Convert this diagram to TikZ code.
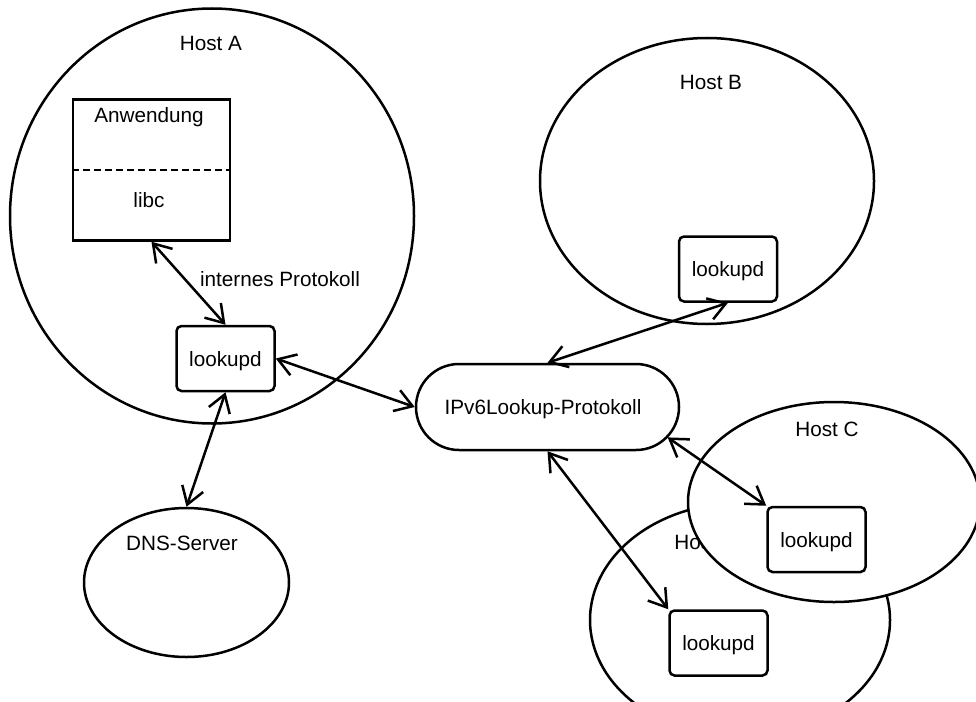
\documentclass[tikz,border=0pt]{standalone}
\usepackage{fontspec}
\setmainfont{Liberation Sans}
\usetikzlibrary{shapes.geometric,shapes.misc,arrows.meta,calc}
\begin{document}
\begin{tikzpicture}[x=1pt,y=-1pt,
  every node/.style={font=\fontsize{20.7}{24}\selectfont,text depth=0pt},
  hostshape/.style={ellipse,draw,fill=white,line width=2.5pt,inner sep=0pt},
  daemon/.style={draw,fill=white,rounded corners=5pt,line width=2.5pt,
    minimum width=98pt,minimum height=65pt,inner sep=0pt},
  proto/.style={rounded rectangle,draw,fill=white,line width=2.5pt,
    minimum width=263pt,minimum height=86pt,inner sep=0pt},
  appbox/.style={draw,fill=white,line width=2.5pt,minimum width=157pt,
    minimum height=141pt,inner sep=0pt},
  lbl/.style={inner sep=0pt},
  link/.style={line width=2.5pt,{Straight Barb[length=17pt,width=22pt]}-{Straight Barb[length=17pt,width=22pt]}}]
\clip (0,0) rectangle (976,701);

% Host A with application and daemon
\node[hostshape,minimum width=404pt,minimum height=415pt] (hostA) at (212,216) {};
\node[lbl] (hostAlbl) at (211,43) {Host A};
\node[appbox] (app) at (151.5,170) {};
\draw[line width=2.2pt,dash pattern=on 7pt off 4pt] (app.west) -- (app.east);
\node[lbl] (applbl) at (149,115) {Anwendung};
\node[lbl] (libclbl) at (149,199.5) {libc};
\node[daemon] (lkA) at (225.5,358.5) {lookupd};
\node[lbl] (intlbl) at (280,278.5) {internes Protokoll};

% DNS server
\node[hostshape,minimum width=205pt,minimum height=149pt] (dns) at (186.5,582.5) {};
\node[lbl] (dnslbl) at (182,543) {DNS-Server};

% Host B
\node[hostshape,minimum width=334pt,minimum height=286pt] (hostB) at (707,181) {};
\node[lbl] (hostBlbl) at (711,82) {Host B};
\node[daemon] (lkB) at (728,269) {lookupd};

% Host D (partly hidden behind Host C)
\node[hostshape,minimum width=300pt,minimum height=234pt] (hostD) at (740,620) {};
\node[lbl] (hostDlbl) at (706,542) {Host D};
\node[daemon] (lkD) at (718.5,643) {lookupd};

% Host C
\node[hostshape,minimum width=292pt,minimum height=200pt] (hostC) at (834,502) {};
\node[lbl] (hostClbl) at (827,429.5) {Host C};
\node[daemon] (lkC) at (816.5,539.5) {lookupd};

% lookup protocol
\node[proto] (ipv6) at (547.5,407) {};
\node[lbl] (ipv6lbl) at (543,407) {IPv6Lookup-Protokoll};
\coordinate (ipv6se) at ($(ipv6.east)+(-12.6,30.4)$);

% connections
\draw[link] (app.south) -- (lkA.north);
\draw[link] (lkA.south) -- (dns.north);
\draw[link] (lkA.east) -- (ipv6.west);
\draw[link] (lkB.south) -- (ipv6.north);
\draw[link] (ipv6se) -- (lkC.north west);
\draw[link] (ipv6.south) -- (lkD.north west);
\end{tikzpicture}
\end{document}
